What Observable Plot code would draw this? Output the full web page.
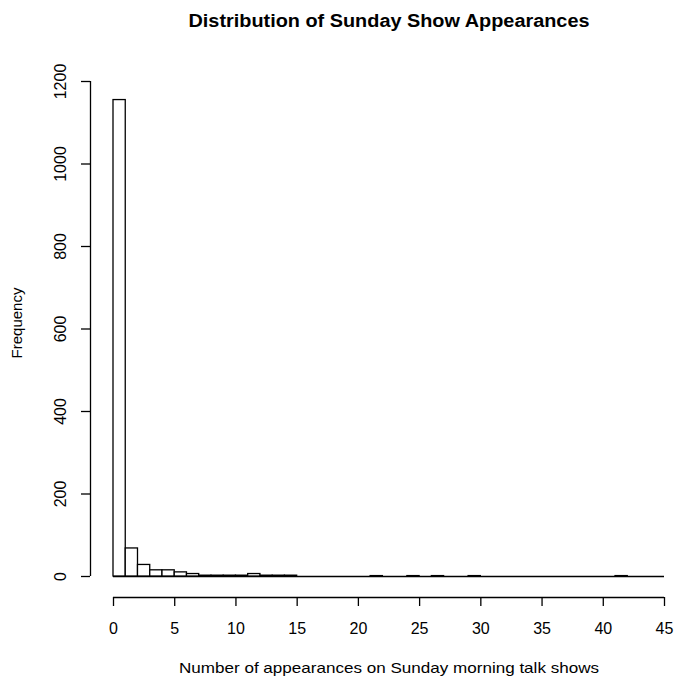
<!DOCTYPE html>
<html>
<head>
<meta charset="utf-8">
<script src="https://cdn.jsdelivr.net/npm/d3@7"></script>
<script src="https://cdn.jsdelivr.net/npm/@observablehq/plot@0.6"></script>
<style>
  html, body { margin: 0; padding: 0; background: #fff; }
</style>
</head>
<body>
<div id="chart"></div>
<script>
const title = "Distribution of Sunday Show Appearances";
const xLabel = "Number of appearances on Sunday morning talk shows";
const yLabel = "Frequency";

// histogram bins: left edges (width 1) and counts
const binStarts = d3.range(0, 45);
const counts = [
  1155, 68, 28, 15, 15, 10, 6, 2, 2, 2,
  2, 6, 2, 2, 2, 0, 0, 0, 0, 0,
  0, 1, 0, 0, 1, 0, 1, 0, 0, 1,
  0, 0, 0, 0, 0, 0, 0, 0, 0, 0,
  0, 1, 0, 0, 0
];
const xTicks = [0, 5, 10, 15, 20, 25, 30, 35, 40, 45];
const yTicks = [0, 200, 400, 600, 800, 1000, 1200];

const bins = binStarts.map((x0, i) => ({x0, x1: x0 + 1, n: counts[i]})).filter(d => d.n > 0);

const fs = 15;
const tfs = 16;
const chart = Plot.plot({
  width: 674,
  height: 680,
  marginLeft: 113,
  marginRight: 10,
  marginTop: 81,
  marginBottom: 104,
  style: {fontFamily: "'Liberation Sans', Arial, sans-serif", background: "#fff", color: "#000"},
  x: {domain: [0, 45], axis: null},
  y: {domain: [0, 1200], axis: null},
  marks: [
    Plot.ruleY([0], {x1: 0, x2: 45, stroke: "#000", strokeWidth: 1.3}),
    Plot.rectY(bins, {x1: "x0", x2: "x1", y1: 0, y2: "n", fill: "#fff", stroke: "#000", strokeWidth: 1.3}),
    // y axis
    Plot.ruleX([0], {y1: 0, y2: 1200, dx: -23, stroke: "#000", strokeWidth: 1.3}),
    Plot.axisY({ticks: yTicks, tickSize: 9, dx: -23, tickFormat: () => "", label: null, strokeWidth: 1.3}),
    Plot.text(yTicks, {y: d => d, text: d => String(d), frameAnchor: "left", dx: -53, rotate: -90,
      textAnchor: "middle", lineAnchor: "middle", fontSize: tfs, fill: "#000"}),
    // x axis
    Plot.ruleY([0], {x1: 0, x2: 45, dy: 21, stroke: "#000", strokeWidth: 1.3}),
    Plot.axisX({ticks: xTicks, tickSize: 9, dy: 21, tickFormat: () => "", label: null, strokeWidth: 1.3}),
    Plot.text(xTicks, {x: d => d, text: d => String(d), frameAnchor: "bottom", dy: 52,
      textAnchor: "middle", lineAnchor: "middle", fontSize: tfs, fill: "#000"}),
    // titles
    Plot.text([title], {frameAnchor: "top", dy: -60, text: d => d, textAnchor: "middle", lineAnchor: "middle",
      fontSize: 18, fontWeight: "bold", fill: "#000"}),
    Plot.text([xLabel], {frameAnchor: "bottom", dy: 92, text: d => d, textAnchor: "middle", lineAnchor: "middle",
      fontSize: fs, fill: "#000"}),
    Plot.text([yLabel], {frameAnchor: "left", dx: -96, dy: -6, rotate: -90, text: d => d,
      textAnchor: "middle", lineAnchor: "middle", fontSize: fs, fill: "#000"})
  ]
});
// the reference's horizontal text is set slightly wider than Arial; stretch to match
d3.select(chart).selectAll("text").each(function () {
  const t = this.textContent;
  if (t === title) d3.select(this).attr("textLength", 401).attr("lengthAdjust", "spacingAndGlyphs");
  if (t === xLabel) d3.select(this).attr("textLength", 420).attr("lengthAdjust", "spacingAndGlyphs");
});
document.getElementById("chart").appendChild(chart);
</script>
</body>
</html>
